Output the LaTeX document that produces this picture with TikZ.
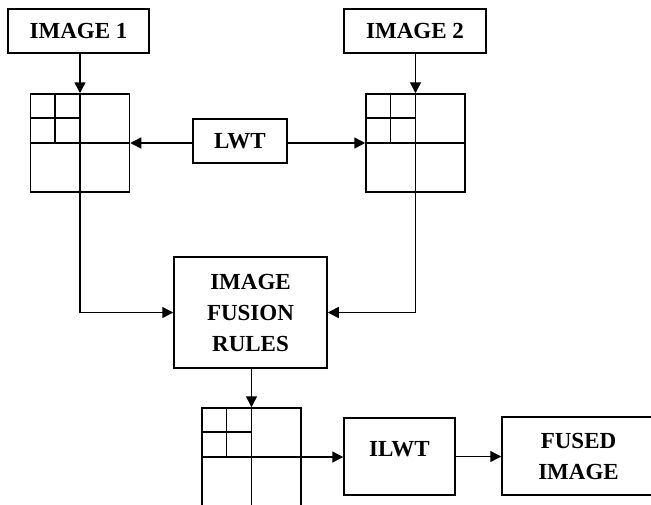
\documentclass[tikz,border=0pt]{standalone}
\usepackage{fontspec}
\setmainfont{Liberation Serif}
\usetikzlibrary{arrows.meta,calc}
\begin{document}
\begin{tikzpicture}[x=1pt,y=-1pt,
  every node/.style={font=\fontsize{23}{31}\selectfont\bfseries},
  box/.style={draw,line width=1.5pt,inner sep=0pt,align=center},
  grid/.style={draw,line width=1.5pt,inner sep=0pt,minimum width=99pt,minimum height=98pt},
  conn/.style={line width=1.5pt,-{Triangle[length=11pt,width=11pt]}},
  plain/.style={line width=1.5pt}]
\useasboundingbox (0,0) rectangle (651,504);
\clip (0,0) rectangle (651,504);
\fill[white] (0,0) rectangle (651,504);
% boxes
\node[box,minimum width=141pt,minimum height=44pt] (img1) at (78.5,31) {IMAGE 1};
\node[box,minimum width=142pt,minimum height=44pt] (img2) at (415,31) {IMAGE 2};
\node[box,minimum width=94pt,minimum height=44pt] (lwt) at (240,141) {LWT};
\node[box,minimum width=153pt,minimum height=111pt] (fus) at (250.5,312.5) {IMAGE\\FUSION\\RULES};
\node[box,minimum width=111pt,text height=38pt,text depth=39pt] (ilwt) at (399.5,456.5) {ILWT};
\node[box,minimum width=153pt,minimum height=78pt] (fused) at (578.5,456) {FUSED\\IMAGE};
% grids
\node[grid] (g1) at (80,143) {};
\node[grid] (g2) at (415.5,143) {};
\node[grid] (g3) at (251.5,457) {};
\foreach \g in {g1,g2,g3}{
  \draw[plain] (\g.north) -- (\g.south);
  \draw[plain] (\g.west) -- (\g.east);
  \draw[plain] ($(\g.north west)!0.5!(\g.north)$) -- ($(\g.west)!0.5!(\g.center)$);
  \draw[plain] ($(\g.north west)!0.5!(\g.west)$) -- ($(\g.north)!0.5!(\g.center)$);
}
% connectors
\draw[conn] (g1.north |- img1.south) -- (g1.north);
\draw[conn] (g2.north |- img2.south) -- (g2.north);
\draw[conn] (lwt.west |- g1.east) -- (g1.east);
\draw[conn] (lwt.east |- g2.west) -- (g2.west);
\draw[conn] (g1.south) |- (fus.west);
\draw[conn] (g2.south) |- (fus.east);
\draw[conn] (g3.north |- fus.south) -- (g3.north);
\draw[conn] (g3.east) -- (ilwt.west |- g3.east);
\draw[conn] (ilwt.east) -- (fused.west |- ilwt.east);
\end{tikzpicture}
\end{document}
